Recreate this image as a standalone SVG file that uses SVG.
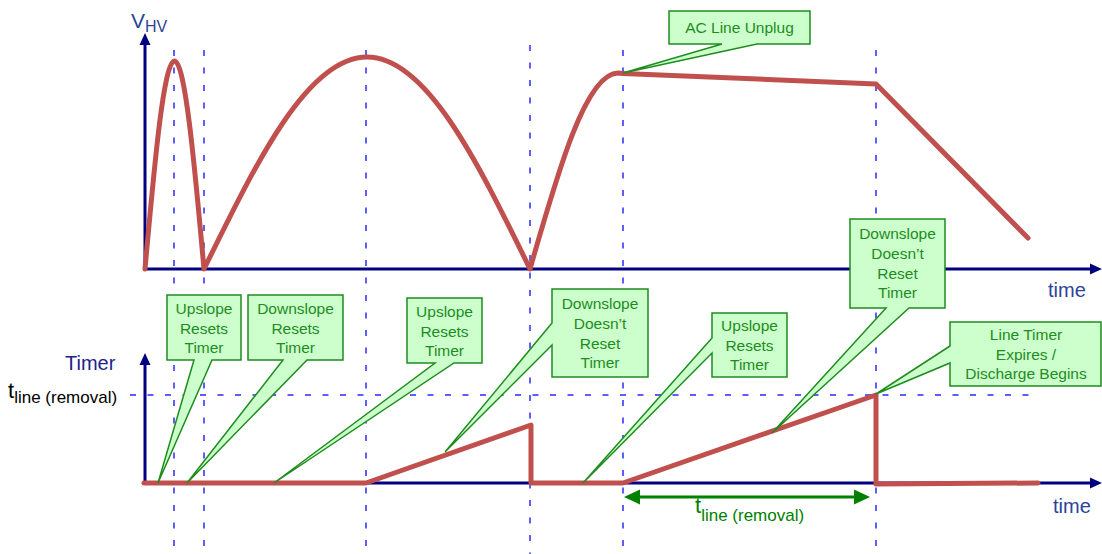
<svg xmlns="http://www.w3.org/2000/svg" width="1102" height="554" viewBox="0 0 1102 554">
<style>
text{font-family:"Liberation Sans",Arial,sans-serif}
.grid{stroke:#2a2aff;stroke-width:1.5;stroke-dasharray:6 11.5;fill:none}
.axis{stroke:#000080;stroke-width:3;fill:none}
.ahead{fill:#000080}
.sig{stroke:#c0504d;stroke-width:5;fill:none;stroke-linejoin:round;stroke-linecap:round}
.call{fill:#ccffcc;stroke:#1e8c1e;stroke-width:1.5;stroke-linejoin:miter}
.ct{fill:#1e8c1e;font-size:15.5px;text-anchor:middle}
.lbl{fill:#2b4597;font-size:20px}
</style>
<rect width="1102" height="554" fill="#ffffff"/>
<g id="grid">
<path class="grid" d="M174,50V554M204,50V554M366,50V554M530,45V554M623,50V554M876,50V554"/>
<path class="grid" d="M130,395H1040"/>
</g>
<g id="axes">
<path class="axis" d="M145,44V269H1092"/>
<polygon class="ahead" points="145,33 139.5,45 150.5,45"/>
<polygon class="ahead" points="1102,269 1090,263.5 1090,274.5"/>
<path class="axis" d="M145,364V483H1092"/>
<polygon class="ahead" points="145,353 139.5,365 150.5,365"/>
<polygon class="ahead" points="1102,483 1090,477.5 1090,488.5"/>
</g>
<g id="labels">
<text x="131" y="28" font-size="21" fill="#2b4597">V<tspan font-size="16" dy="4">HV</tspan></text>
<text x="65" y="370" font-size="20" fill="#22228a">Timer</text>
<text x="8" y="398" font-size="22" fill="#000">t<tspan font-size="17" dy="5">line (removal)</tspan></text>
<text class="lbl" x="1048" y="297">time</text>
<text class="lbl" x="1053" y="513">time</text>
</g>
<g id="vhv-signal">
<path class="sig" d="M145,269 C154.6,162.4 163.8,61 174.5,61 C185,61 194.4,162.4 204,269 C257.2,160.4 308,57 367,57 C426,57 477,160.4 530,269 C558.7,168.6 586.2,73 618,73 L623,73.5 L876,84 L1028,238"/>
</g>
<g id="timer-signal">
<path class="sig" d="M144,483 H366 L531,425 V483 H623 L876,395 V484 L1038,483"/>
</g>
<g id="connectors">
<line x1="636" y1="497" x2="858" y2="497" stroke="#008000" stroke-width="3"/>
<polygon points="624,497 640,489.5 640,504.5" fill="#008000"/>
<polygon points="870,497 854,489.5 854,504.5" fill="#008000"/>
<text x="695" y="513" font-size="22" fill="#008000">t<tspan font-size="17" dy="8">line (removal)</tspan></text>
</g>
<g id="callout-ac-unplug">
<path class="call" d="M669,11 H810 V44 H757 L623,73 L722,44 H669 Z"/>
<text class="ct" x="739.5" y="33">AC Line Unplug</text>
</g>
<g id="callout-upslope-1">
<path class="call" d="M167,295 H241 V360 H212 L158,483 L194,360 H167 Z"/>
<text class="ct" x="204" y="314">Upslope</text>
<text class="ct" x="204" y="334">Resets</text>
<text class="ct" x="204" y="353">Timer</text>
</g>
<g id="callout-downslope-1">
<path class="call" d="M248,295 H343 V360 H307 L187,483 L283,360 H248 Z"/>
<text class="ct" x="295.5" y="314">Downslope</text>
<text class="ct" x="295.5" y="334">Resets</text>
<text class="ct" x="295.5" y="353">Timer</text>
</g>
<g id="callout-upslope-2">
<path class="call" d="M407,298 H482 V363 H454 L274,483 L435,363 H407 Z"/>
<text class="ct" x="444.5" y="317">Upslope</text>
<text class="ct" x="444.5" y="337">Resets</text>
<text class="ct" x="444.5" y="356">Timer</text>
</g>
<g id="callout-downslope-2">
<path class="call" d="M552,289 H648 V377 H552 V345 L445,452 L552,323 Z"/>
<text class="ct" x="600" y="309">Downslope</text>
<text class="ct" x="600" y="329">Doesn’t</text>
<text class="ct" x="600" y="349">Reset</text>
<text class="ct" x="600" y="368">Timer</text>
</g>
<g id="callout-upslope-3">
<path class="call" d="M712,313 H787 V377 H712 V353 L583,483 L712,338 Z"/>
<text class="ct" x="749.5" y="331">Upslope</text>
<text class="ct" x="749.5" y="351">Resets</text>
<text class="ct" x="749.5" y="370">Timer</text>
</g>
<g id="callout-downslope-3">
<path class="call" d="M850,219 H945 V308 H909 L772,433 L886,308 H850 Z"/>
<text class="ct" x="897.5" y="239">Downslope</text>
<text class="ct" x="897.5" y="259">Doesn’t</text>
<text class="ct" x="897.5" y="279">Reset</text>
<text class="ct" x="897.5" y="298">Timer</text>
</g>
<g id="callout-line-timer">
<path class="call" d="M950,322 H1101 V386 H950 V363 L876,394 L950,346 Z"/>
<text class="ct" x="1026" y="340">Line Timer</text>
<text class="ct" x="1026" y="360">Expires /</text>
<text class="ct" x="1026" y="379">Discharge Begins</text>
</g>
</svg>
